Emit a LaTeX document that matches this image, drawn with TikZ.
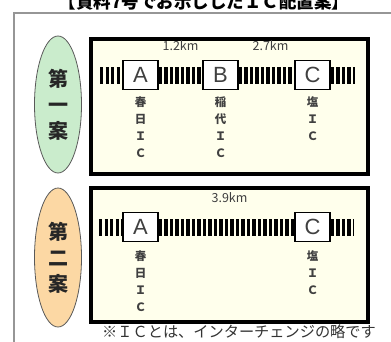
\documentclass[tikz,border=0pt]{standalone}
\usepackage{fontspec}
\setmainfont{Liberation Sans}
\newfontfamily\jpfont{Noto Sans CJK JP}
\usetikzlibrary{positioning, shapes.geometric}
\definecolor{panelCream}{RGB}{255,255,236}
\definecolor{planGreen}{RGB}{202,236,204}
\definecolor{planOrange}{RGB}{252,216,164}
\definecolor{frameGray}{RGB}{150,150,150}
\tikzstyle{fPanel} = [draw=black, line width=4pt, fill=panelCream]
\tikzstyle{fPlan} = [ellipse, draw=black!65, line width=0.8pt, minimum width=47pt, inner sep=0pt, align=center, text=black!85, font=\jpfont\bfseries\fontsize{20}{26}\selectfont]
\tikzstyle{fIcBox} = [rectangle, draw=black, line width=1.6pt, fill=white, minimum width=35pt, minimum height=29pt, inner sep=0pt, text=black!75, font=\fontsize{22}{22}\selectfont]
\tikzstyle{fRoad} = [line width=17pt, dash pattern=on 3.4pt off 2.1pt]
\tikzstyle{fIcName} = [align=center, inner sep=0pt, text=black!75, font=\jpfont\bfseries\fontsize{11.5}{17}\selectfont]
\tikzstyle{fDistance} = [inner sep=0pt, text=black!75, font=\jpfont\fontsize{12.5}{12.5}\selectfont]
\tikzstyle{fNote} = [inner sep=0pt, text=black!80, font=\jpfont\fontsize{15.2}{15.2}\selectfont]

\begin{document}
\begin{tikzpicture}[x=1pt, y=-1pt]
    \useasboundingbox (0,0) rectangle (391,341);
    % frame and title
    \draw [frameGray, line width=1.5pt] (14,345) -- (14,13) -- (395,13);
    \node (title) [inner sep=0pt, font=\jpfont\bfseries\fontsize{17.5}{17.5}\selectfont] at (204,1.5) {【資料7号でお示ししたＩＣ配置案】};

    % first plan
    \node (planOne) [fPlan, fill=planGreen, minimum height=137pt] at (58,104.5) {第\\一\\案};
    \draw [fPanel] (90.5,38.5) rectangle (368,174);
    \coordinate (roadStartOne) at (100,75);
    \coordinate (roadEndOne) at (355,75);
    \node (icAOne) [fIcBox] at (140.5,75) {A};
    \node (icBOne) [fIcBox] at (220.5,75) {B};
    \node (icCOne) [fIcBox] at (312.5,75) {C};
    \draw [fRoad] (roadStartOne) -- (icAOne);
    \draw [fRoad] (icAOne) -- node[fDistance, above=16pt] {1.2km} (icBOne);
    \draw [fRoad] (icBOne) -- node[fDistance, above=16pt, xshift=4pt] {2.7km} (icCOne);
    \draw [fRoad] (icCOne) -- (roadEndOne);
    \node (nameAOne) [fIcName, below=6pt of icAOne] {春\\日\\Ｉ\\Ｃ};
    \node (nameBOne) [fIcName, below=6pt of icBOne] {稲\\代\\Ｉ\\Ｃ};
    \node (nameCOne) [fIcName, below=6pt of icCOne] {塩\\Ｉ\\Ｃ};

    % second plan
    \node (planTwo) [fPlan, fill=planOrange, minimum height=139pt] at (58,257.5) {第\\二\\案};
    \draw [fPanel] (90.5,188) rectangle (368,322);
    \coordinate (roadStartTwo) at (99,227);
    \coordinate (roadEndTwo) at (353,227);
    \node (icATwo) [fIcBox] at (140.5,227) {A};
    \node (icCTwo) [fIcBox] at (312.5,227) {C};
    \draw [fRoad] (roadStartTwo) -- (icATwo);
    \draw [fRoad] (icATwo) -- node[fDistance, above=16pt, xshift=3pt] {3.9km} (icCTwo);
    \draw [fRoad] (icCTwo) -- (roadEndTwo);
    \node (nameATwo) [fIcName, below=8pt of icATwo] {春\\日\\Ｉ\\Ｃ};
    \node (nameCTwo) [fIcName, below=8pt of icCTwo] {塩\\Ｉ\\Ｃ};

    \node (note) [fNote] at (239,331.5) {※ＩＣとは、インターチェンジの略です};
\end{tikzpicture}
\end{document}
